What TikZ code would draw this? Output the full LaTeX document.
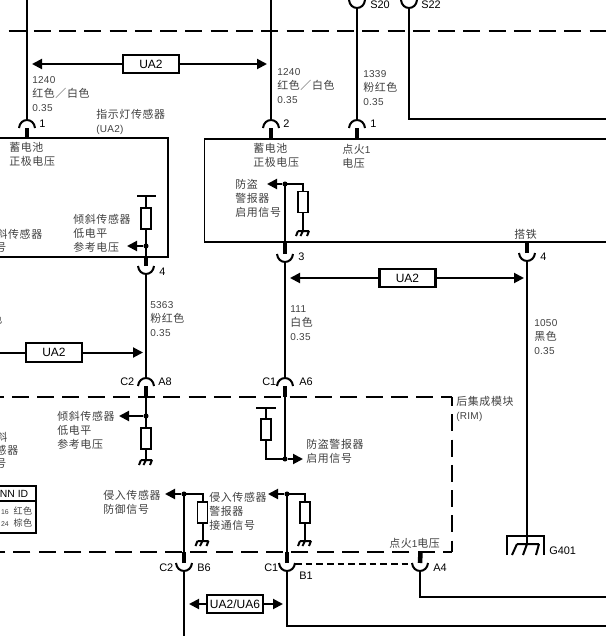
\documentclass[tikz,border=0pt]{standalone}
\usepackage{fontspec}
\setmainfont{Liberation Sans}
\newfontfamily\cjkfont[LetterSpace=6]{Noto Sans CJK SC}
\newfontfamily\numfont[LetterSpace=3]{Liberation Sans}
\usetikzlibrary{arrows.meta}
\definecolor{txtgray}{gray}{0.25}
\newcommand{\dg}[1]{{\numfont\fontsize{7.5}{10.5}\selectfont #1}}
\tikzset{
  wire/.style={line width=1.5pt},
  stub/.style={line width=3.4pt},
  housing/.style={line width=1.4pt},
  dashline/.style={line width=1.5pt,dash pattern=on 12.75pt off 6.2pt},
  tip/.style={-{Triangle[length=7.5pt,width=7.5pt]}},
  twotip/.style={{Triangle[length=7.5pt,width=7.5pt]}-{Triangle[length=7.5pt,width=7.5pt]}},
  lab/.style={anchor=west,align=left,inner sep=0pt,text=txtgray,font=\cjkfont\fontsize{8.2}{10.5}\selectfont},
  labend/.style={lab,anchor=east},
  pin/.style={anchor=west,inner sep=0pt,font=\fontsize{8.2}{10}\selectfont},
  uabox/.style={draw,line width=1.6pt,fill=white,minimum width=42pt,minimum height=14pt,inner sep=0pt,font=\fontsize{9}{10}\selectfont},
  res/.style={draw,line width=1.4pt,fill=white,minimum width=7.5pt,minimum height=15.75pt,inner sep=0pt},
  dot/.style={circle,fill,inner sep=0pt,minimum size=3.8pt},
}
% jacks: the name is the apex of the arc
\newcommand{\topjack}[1]{\draw[wire] (#1) ++(-8,8) .. controls +(1,-10.6) and +(-1,-10.6) .. +(16,0);}
\newcommand{\botjack}[1]{\draw[wire] (#1) ++(-8,-8) .. controls +(1,10.6) and +(-1,10.6) .. +(16,0);}
\newcommand{\grnd}[1]{\draw[wire] (#1) +(-5,0) -- +(6,0) +(-5,0) -- +(-7,5) +(0,0) -- +(-2.5,5) +(6,0) -- +(4,5);}
\begin{document}
\begin{tikzpicture}[x=0.75pt,y=-0.75pt]

	\useasboundingbox (0,0) rectangle (606,636);
	\clip (0,0) rectangle (606,636);

	% jacks
	\foreach \n/\x/\y in {jA/27/120,jB/271/120,jC/357/120,jD/146/378,jE/285/378}
		\coordinate (\n) at (\x,\y);
	\foreach \n/\x/\y in {jS/357/8,jT/409/8,jF/146/274,jG/285/262,jH/527/261,jK/184/571,jL/287/571,jM/420/571}
		\coordinate (\n) at (\x,\y);
	\foreach \n in {jA,jB,jC,jD,jE} {\topjack{\n}}
	\foreach \n in {jS,jT,jF,jG,jH,jK,jL,jM} {\botjack{\n}}

	% module outlines and harness borders
	\draw[dashline,dash phase=0pt] (-16.7,31) -- (606,31);
	\draw[housing] (0,138) -- (168,138) -- (168,257) -- (0,257);
	\draw[housing] (606,139) -- (204.5,139) -- (204.5,242) -- (606,242);
	\draw[dashline] (-13.5,396.5) -- (452,396.5);
	\draw[dashline,dash phase=5.6pt] (452,396.5) -- (452,552);
	\draw[dashline,dash phase=6pt] (452,552) -- (0,552);

	% stubs
	\draw[stub] (jA) ++(0,8) -- (27,138);
	\draw[stub] (jB) ++(0,8) -- (271,139);
	\draw[stub] (jC) ++(0,8) -- (357,139);
	\draw[stub] (jD) ++(0,8) -- (146,397);
	\draw[stub] (jE) ++(0,8) -- (285,397);
	\draw[stub] (jF) ++(0,-8) -- (146,257);
	\draw[stub] (jG) ++(0,-8) -- (285,242);
	\draw[stub] (jH) ++(0,-8) -- (527,242);
	\draw[stub] (jK) ++(0,-8) -- (184,552);
	\draw[stub] (jL) ++(0,-8) -- (287,552);
	\draw[stub] (jM) ++(0,-8) -- (420.5,552);

	% wires
	\draw[wire] (27,0) -- (jA);
	\draw[wire] (271,0) -- (jB);
	\draw[wire] (jS) -- (jC);
	\draw[wire] (jT) -- (409,119) -- (606,119);
	\draw[wire] (jF) -- (jD);
	\draw[wire] (jG) -- (jE);
	\draw[wire] (jH) -- (527,544);
	\draw[wire] (jK) -- (184,636);
	\draw[wire] (jL) -- (287,626) -- (606,626);
	\draw[wire] (jM) -- (420,597) -- (606,597);
	\draw[wire,dash pattern=on 5pt off 3pt] (295,563.5) -- (411,563.5);

	% bars over the top of the switches
	\coordinate (teeA) at (146,196);
	\coordinate (teeB) at (266,408);
	\draw[wire] (137,196) -- (156,196);
	\draw[wire] (256,408) -- (276,408);

	% resistors
	\draw[wire] (teeA) -- (146,257);
	\node[res] (rA) at (146,218.5) {};
	\draw[wire] (285,184) -- (303,184) -- (303,231);
	\node[res] (rB) at (303,202) {};
	\draw[wire] (285,184) -- (285,242);
	\draw[wire] (146,397) -- (146,460);
	\node[res] (rC) at (146,438.5) {};
	\draw[wire] (teeB) -- (266,459) -- (285,459);
	\node[res] (rD) at (266,429.5) {};
	\draw[wire] (285,397) -- (285,459);
	\draw[wire] (184,494) -- (202.5,494) -- (202.5,541);
	\node[res] (rE) at (202.5,512.5) {};
	\draw[wire] (287,494) -- (305,494) -- (305,541);
	\node[res] (rF) at (305,512.5) {};
	\draw[wire] (184,494) -- (184,552);
	\draw[wire] (287,494) -- (287,552);

	% grounds
	\coordinate (gA) at (303,231);
	\coordinate (gB) at (146,460);
	\coordinate (gC) at (202.5,541);
	\coordinate (gD) at (305,541);
	\foreach \n in {gA,gB,gC,gD} {\grnd{\n}}

	% junctions and signal arrows
	\node[dot] (dA) at (146,246) {};
	\node[dot] (dB) at (285,184) {};
	\node[dot] (dC) at (146,416) {};
	\node[dot] (dD) at (285,459) {};
	\node[dot] (dE) at (184,494) {};
	\node[dot] (dF) at (287,494) {};
	\draw[wire,tip] (dA) -- (127,246);
	\draw[wire,tip] (dB) -- (267,184);
	\draw[wire,tip] (dC) -- (119,416);
	\draw[wire,tip] (dD) -- (303,459);
	\draw[wire,tip] (dE) -- (165,494);
	\draw[wire,tip] (dF) -- (268,494);

	% G401
	\draw[housing] (507,555) -- (507,536) -- (544,536) -- (544,555);
	\draw[wire] (517,544) -- (539,544) (517,544) -- (512,555) (527,544) -- (523,555) (539,544) -- (536,555);

	% service options
	\draw[wire,twotip] (32,64) -- (267,64);
	\node[uabox] (uaA) at (151,64) {UA2};
	\draw[wire,twotip] (290,278) -- (524,278);
	\node[uabox] (uaB) at (407.5,278) {UA2};
	\draw[wire,tip] (0,352.5) -- (143,352.5);
	\node[uabox] (uaC) at (54,352.5) {UA2};
	\draw[wire,twotip] (189,604) -- (283,604);
	\node[uabox] (uaD) at (235,604) {UA2/UA6};

	% table
	\draw[housing] (0,486) -- (36,486) -- (36,533) -- (0,533) (0,501) -- (36,501);
	\node[anchor=east,inner sep=0pt,font=\fontsize{7.8}{10}\selectfont] (tabHead) at (28.5,494) {NN ID};
	\node[labend,font=\cjkfont\fontsize{6.8}{8}\selectfont] (tabA) at (32.5,511) {{\fontsize{5.2}{8}\selectfont\rmfamily 16}\hspace{3.6pt}红色};
	\node[labend,font=\cjkfont\fontsize{6.8}{8}\selectfont] (tabB) at (32.5,523) {{\fontsize{5.2}{8}\selectfont\rmfamily 24}\hspace{3.6pt}棕色};

	% wire labels
	\node[lab] (wireA) at (32,94) {\dg{1240}\\红色／白色\\\dg{0.35}};
	\node[lab] (wireB) at (277,86) {\dg{1240}\\红色／白色\\\dg{0.35}};
	\node[lab] (wireC) at (363,88) {\dg{1339}\\粉红色\\\dg{0.35}};
	\node[lab] (wireD) at (150,319) {\dg{5363}\\粉红色\\\dg{0.35}};
	\node[lab] (wireE) at (290,323) {\dg{111}\\白色\\\dg{0.35}};
	\node[lab] (wireF) at (534,337) {\dg{1050}\\黑色\\\dg{0.35}};
	\node[labend] (wireG) at (2.5,319) {色};

	% texts
	\node[lab] (lamp) at (96,121.5) {指示灯传感器\\\dg{(UA2)}};
	\node[lab] (battA) at (9,154) {蓄电池\\正极电压};
	\node[lab] (battB) at (253,155) {蓄电池\\正极电压};
	\node[lab] (ign) at (342,156.5) {点火\dg{1}\\电压};
	\node[lab] (almA) at (235,198) {防盗\\警报器\\启用信号};
	\node[lab] (tiltA) at (73,233.5) {倾斜传感器\\低电平\\参考电压};
	\node[labend] (tiltB) at (42.5,234.5) {斜传感器};
	\node[labend] (tiltC) at (6.5,247.5) {号};
	\node[lab] (gnd) at (514,234) {搭铁};
	\node[lab] (rim) at (456,409) {后集成模块\\\dg{(RIM)}};
	\node[lab] (tiltD) at (57,430) {倾斜传感器\\低电平\\参考电压};
	\node[lab] (almB) at (306,451.5) {防盗警报器\\启用信号};
	\node[labend] (tiltE) at (7.5,437) {斜};
	\node[labend] (tiltF) at (18.5,450.5) {感器};
	\node[labend] (tiltG) at (6.5,464) {号};
	\node[lab] (intrA) at (103,502) {侵入传感器\\防御信号};
	\node[lab] (intrB) at (209,511) {侵入传感器\\警报器\\接通信号};
	\node[lab] (ignB) at (389,543) {点火\dg{1}电压};

	% pin numbers
	\foreach \n/\x/\y/\t in {pA/39/124/1,pB/283/124/2,pC/370/124/1,pD/159/272/4,pE/298/257/3,pF/540/257/4,
		pS/370/5/S20,pT/421/5/S22,pG/120/382/C2,pH/158/382/A8,pI/262/382/C1,pJ/299/382/A6,
		pK/159/568/C2,pL/197/568/B6,pM/264/568/C1,pN/299/576/B1,pO/433/568/A4,pP/549/551/G401}
		\node[pin] (\n) at (\x,\y) {\t};

\end{tikzpicture}
\end{document}
